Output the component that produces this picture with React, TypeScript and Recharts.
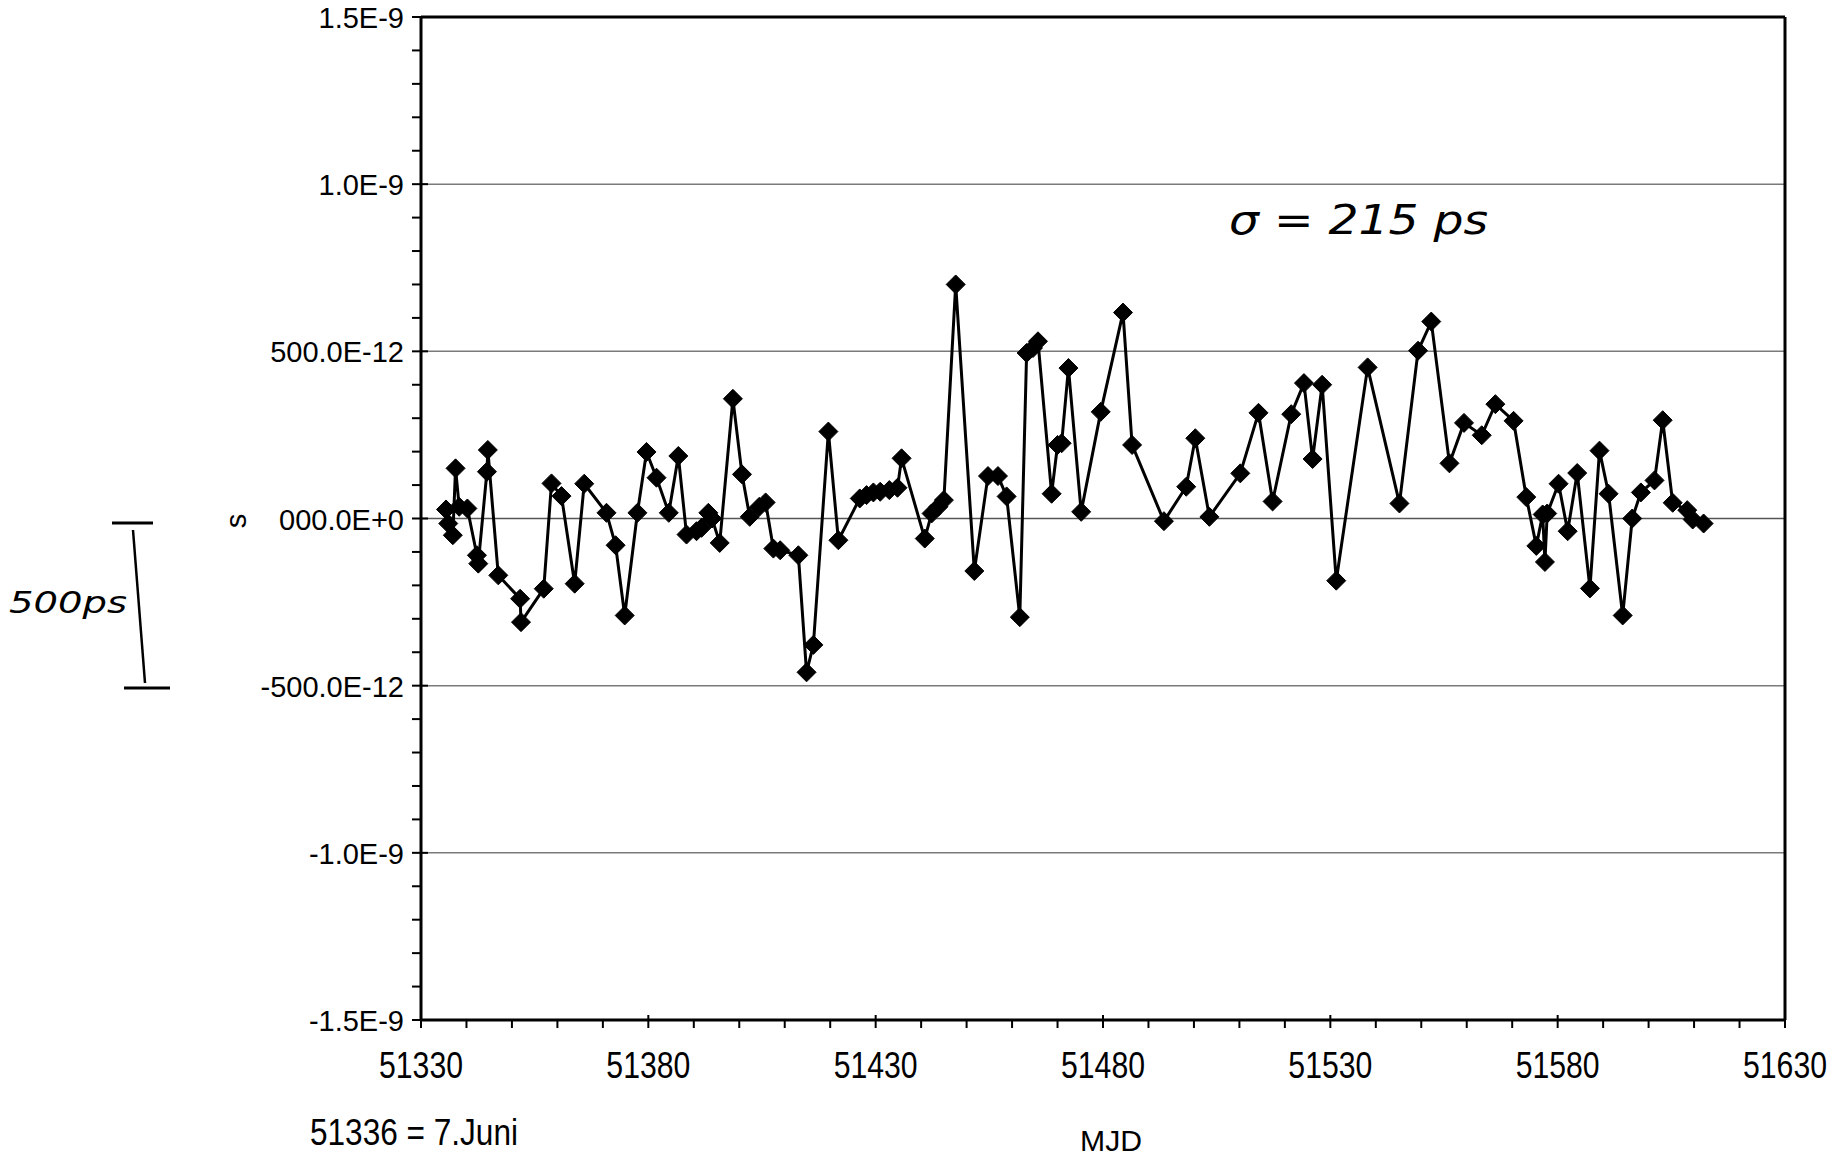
import { Line, LineChart, ReferenceLine, XAxis, YAxis } from "recharts";

// MJD of each measurement
const mjd = [
  51335.5, 51336, 51337, 51337.6, 51338.4, 51340.2, 51342.3, 51342.6, 51344.5, 51344.7,
  51347, 51351.8, 51352, 51357, 51358.7, 51360.9, 51363.8, 51365.9, 51370.8, 51372.8,
  51374.8, 51377.6, 51379.6, 51381.8, 51384.5, 51386.6, 51388.4, 51390.6, 51391.7, 51393.2,
  51394, 51395.7, 51398.6, 51400.6, 51402.3, 51404.4, 51405.8, 51407.5, 51409, 51413,
  51414.8, 51416.3, 51419.6, 51421.8, 51426.5, 51428, 51429.5, 51431, 51433, 51434.8,
  51435.7, 51440.8, 51442.3, 51443.8, 51445, 51447.6, 51451.7, 51454.7, 51456.9, 51458.8,
  51461.7, 51463.2, 51464.6, 51465.7, 51468.7, 51470, 51470.9, 51472.4, 51475.2, 51479.5,
  51484.4, 51486.4, 51493.4, 51498.3, 51500.3, 51503.4, 51510.2, 51514.2, 51517.3, 51521.4,
  51524.2, 51526.1, 51528.2, 51531.3, 51538.2, 51545.2, 51549.3, 51552.2, 51556.2, 51559.4,
  51563.3, 51566.3, 51570.3, 51573.1, 51575.3, 51576.7, 51577.2, 51577.7, 51580.2, 51582.2,
  51584.3, 51587.1, 51589.2, 51591.2, 51594.3, 51596.4, 51598.3, 51601.3, 51603.1, 51605.3,
  51608.5, 51609.7, 51612.1,
];

// time offset in picoseconds
const offsetPs = [
  27, -15, -50, 150, 35, 30, -110, -135, 140, 205,
  -170, -240, -310, -210, 105, 67, -195, 104, 17, -80,
  -290, 17, 199, 122, 17, 187, -48, -38, -28, 17,
  0, -73, 358, 132, 5, 35, 48, -90, -95, -110,
  -460, -378, 260, -65, 60, 70, 78, 80, 85, 92,
  180, -60, 15, 35, 55, 700, -157, 127, 127, 66,
  -295, 495, 510, 530, 74, 220, 225, 450, 20, 319,
  616, 220, -8, 95, 240, 5, 135, 316, 51, 312,
  405, 178, 400, -186, 452, 45, 502, 589, 165, 286,
  249, 342, 292, 64, -82, 12, -130, 15, 104, -38,
  136, -209, 203, 74, -290, 0, 78, 114, 294, 47,
  25, -3, -15,
];

const xTicks = [
  51330, 51340, 51350, 51360, 51370, 51380, 51390, 51400, 51410, 51420, 51430,
  51440, 51450, 51460, 51470, 51480, 51490, 51500, 51510, 51520, 51530,
  51540, 51550, 51560, 51570, 51580, 51590, 51600, 51610, 51620, 51630,
];
const xLabelTicks = [51330, 51380, 51430, 51480, 51530, 51580, 51630];

const yTicks = [
  -1500, -1400, -1300, -1200, -1100, -1000, -900, -800, -700, -600, -500,
  -400, -300, -200, -100, 0, 100, 200, 300, 400, 500,
  600, 700, 800, 900, 1000, 1100, 1200, 1300, 1400, 1500,
];
const yLabelTicks = [1500, 1000, 500, 0, -500, -1000, -1500];
const yTickLabels = ["1.5E-9", "1.0E-9", "500.0E-12", "000.0E+0", "-500.0E-12", "-1.0E-9", "-1.5E-9"];
const gridValues = [1000, 500, 0, -500, -1000];

const data = mjd.map((d, i) => ({ mjd: d, offset: offsetPs[i] }));

const FONT = "'Liberation Sans', Arial, sans-serif";

function YTick({ x, y, payload }: any) {
  const idx = yLabelTicks.indexOf(payload.value);
  if (idx < 0) {
    return <line x1={x - 9} x2={x} y1={y} y2={y} stroke="#000" strokeWidth={2} />;
  }
  return (
    <g>
      <line x1={x - 9} x2={x + 7} y1={y} y2={y} stroke="#000" strokeWidth={2} />
      <text x={x - 17} y={y + 11} textAnchor="end" fontSize={29} fontFamily={FONT} fill="#000">
        {yTickLabels[idx]}
      </text>
    </g>
  );
}

function XTick({ x, y, payload }: any) {
  const isLabel = xLabelTicks.includes(payload.value);
  return (
    <g>
      <line x1={x} x2={x} y1={isLabel ? y - 5 : y} y2={y + 8} stroke="#000" strokeWidth={2} />
      {isLabel && (
        <text
          x={x}
          y={y + 58}
          textAnchor="middle"
          fontSize={36}
          fontFamily={FONT}
          textLength={84}
          lengthAdjust="spacingAndGlyphs"
          fill="#000"
        >
          {payload.value}
        </text>
      )}
    </g>
  );
}

function Diamond({ cx, cy }: any) {
  const r = 9.5;
  return (
    <polygon
      points={`${cx},${cy - r} ${cx + r},${cy} ${cx},${cy + r} ${cx - r},${cy}`}
      fill="#000"
      stroke="#000"
      strokeWidth={1}
    />
  );
}

export default function App() {
  return (
    <div style={{ position: "absolute", left: 0, top: 0, width: 1844, height: 1157, background: "#fff" }}>
      <LineChart width={1844} height={1157} data={data} margin={{ top: 17, right: 59, left: 0, bottom: 0 }}>
        <XAxis
          dataKey="mjd"
          type="number"
          domain={[51330, 51630]}
          ticks={xTicks}
          interval={0}
          height={137}
          tickSize={0}
          tickMargin={0}
          tickLine={false}
          tick={<XTick />}
          axisLine={{ stroke: "#000", strokeWidth: 3 }}
          allowDataOverflow
        />
        <YAxis
          type="number"
          domain={[-1500, 1500]}
          ticks={yTicks}
          interval={0}
          width={421}
          tickSize={0}
          tickMargin={0}
          tickLine={false}
          tick={<YTick />}
          axisLine={{ stroke: "#000", strokeWidth: 3 }}
          allowDataOverflow
        />
        {gridValues.map((v) => (
          <ReferenceLine key={v} y={v} stroke={v === 0 ? "#555" : "#7a7a7a"} strokeWidth={1.5} />
        ))}
        <ReferenceLine y={1500} stroke="#000" strokeWidth={3} />
        <ReferenceLine x={51630} stroke="#000" strokeWidth={3} />
        <Line
          dataKey="offset"
          stroke="#000"
          strokeWidth={3}
          dot={<Diamond />}
          activeDot={false}
          isAnimationActive={false}
        />
      </LineChart>
      <svg
        width={1844}
        height={1157}
        style={{ position: "absolute", left: 0, top: 0, pointerEvents: "none" }}
      >
        <text
          x={236}
          y={521}
          transform="rotate(-90 236 521)"
          textAnchor="middle"
          dominantBaseline="central"
          fontSize={29}
          fontFamily={FONT}
        >
          s
        </text>
        <text x={310} y={1145} fontSize={36} fontFamily={FONT} textLength={208} lengthAdjust="spacingAndGlyphs">
          51336 = 7.Juni
        </text>
        <text x={1080} y={1151} fontSize={30} fontFamily={FONT} textLength={62} lengthAdjust="spacingAndGlyphs">
          MJD
        </text>
        <text
          x={1229}
          y={234}
          fontSize={40}
          fontStyle="italic"
          fontFamily="'DejaVu Sans', sans-serif"
          textLength={259}
          lengthAdjust="spacingAndGlyphs"
        >
          σ = 215 ps
        </text>
        <text
          x={9}
          y={613}
          fontSize={30}
          fontStyle="italic"
          fontFamily="'DejaVu Sans', sans-serif"
          textLength={118}
          lengthAdjust="spacingAndGlyphs"
        >
          500ps
        </text>
        <line x1={112} y1={523} x2={153} y2={523} stroke="#000" strokeWidth={3} />
        <line x1={133} y1={530} x2={145} y2={683} stroke="#000" strokeWidth={2.5} />
        <line x1={124} y1={688} x2={170} y2={688} stroke="#000" strokeWidth={3} />
      </svg>
    </div>
  );
}
